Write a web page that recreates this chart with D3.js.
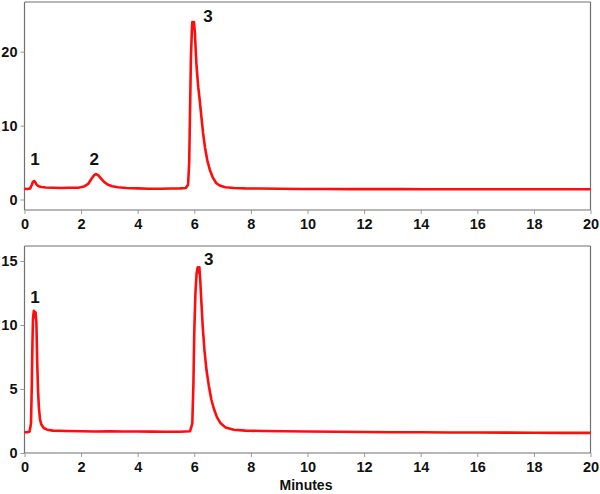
<!DOCTYPE html>
<html>
<head>
<meta charset="utf-8">
<script src="https://cdn.jsdelivr.net/npm/d3@7"></script>
<style>
  body { margin: 0; background: #fff; }
  svg { display: block; }
  text { font-family: "Liberation Sans", Arial, sans-serif; font-weight: bold; fill: #111; }
</style>
</head>
<body>
<svg id="chart" width="600" height="494"></svg>
<script>
// ---- data (minutes, signal) ----
const xTicks = [0, 2, 4, 6, 8, 10, 12, 14, 16, 18, 20];
const topYTicks = [0, 10, 20];
const bottomYTicks = [0, 5, 10, 15];

const topTime = [0, 0.1, 0.2, 0.26, 0.3, 0.34, 0.38, 0.43, 0.5, 0.6, 0.75, 1.0, 1.3, 1.6, 1.9, 2.1, 2.25, 2.35, 2.45, 2.52, 2.6, 2.7, 2.82, 2.95, 3.1, 3.3, 3.6, 4.0, 4.4, 4.8, 5.2, 5.5, 5.7, 5.78, 5.82, 5.85, 5.88, 5.91, 5.93, 5.96, 5.99, 6.02, 6.08, 6.14, 6.19, 6.25, 6.31, 6.38, 6.46, 6.55, 6.65, 6.78, 6.92, 7.1, 7.4, 7.8, 8.3, 9.0, 9.8, 10.6, 11.5, 12.4, 13.3, 14.2, 15.1, 16.0, 17.0, 18.0, 19.0, 20.0];
const topSignal = [1.45, 1.42, 1.5, 2.0, 2.4, 2.5, 2.35, 2.0, 1.8, 1.7, 1.62, 1.6, 1.55, 1.58, 1.6, 1.75, 2.1, 2.7, 3.25, 3.45, 3.3, 2.85, 2.35, 2.0, 1.8, 1.65, 1.55, 1.5, 1.45, 1.45, 1.48, 1.5, 1.55, 2.0, 5.0, 12.0, 19.0, 22.5, 24.0, 23.2, 24.0, 22.5, 18.0, 15.2, 13.5, 11.2, 9.0, 7.0, 5.3, 4.0, 3.0, 2.2, 1.85, 1.65, 1.55, 1.5, 1.48, 1.45, 1.42, 1.42, 1.4, 1.4, 1.4, 1.38, 1.38, 1.38, 1.38, 1.38, 1.38, 1.38];

const bottomTime = [0, 0.1, 0.18, 0.23, 0.26, 0.28, 0.3, 0.33, 0.36, 0.39, 0.42, 0.45, 0.48, 0.51, 0.55, 0.6, 0.68, 0.8, 1.0, 1.5, 2.0, 2.5, 3.0, 3.5, 4.0, 4.5, 5.0, 5.5, 5.85, 5.93, 5.97, 6.0, 6.04, 6.08, 6.12, 6.15, 6.18, 6.21, 6.25, 6.3, 6.36, 6.43, 6.51, 6.6, 6.7, 6.8, 6.92, 7.1, 7.4, 7.8, 8.4, 9.2, 10.0, 11.0, 12.0, 13.0, 14.0, 15.0, 16.0, 17.0, 18.0, 19.0, 20.0];
const bottomSignal = [1.62, 1.62, 1.68, 2.3, 5.5, 8.5, 10.5, 11.1, 10.6, 11.0, 10.2, 7.0, 4.8, 3.5, 2.6, 2.2, 1.95, 1.82, 1.75, 1.72, 1.7, 1.68, 1.7, 1.68, 1.68, 1.67, 1.66, 1.66, 1.7, 2.3, 5.5, 9.5, 12.5, 14.0, 14.5, 14.1, 14.5, 13.5, 11.8, 9.8, 8.0, 6.5, 5.3, 4.2, 3.4, 2.8, 2.35, 2.0, 1.82, 1.75, 1.72, 1.7, 1.68, 1.66, 1.64, 1.62, 1.62, 1.6, 1.6, 1.59, 1.58, 1.57, 1.57];

const topPeakNames = ["1", "2", "3"];
const topPeakTimes = [0.37, 2.46, 6.48];
const topPeakLabelValues = [4.67, 4.67, 23.95];
const bottomPeakNames = ["1", "3"];
const bottomPeakTimes = [0.37, 6.51];
const bottomPeakLabelValues = [11.7, 14.7];

const xLabel = "Minutes";

// ---- drawing ----
const svg = d3.select("#chart");
const frameColor = "#707070";
const lineColor = "#ff0d0d";

const x = d3.scaleLinear().domain([0, 20]).range([24.5, 590.5]);

function panel(opts) {
  const { top, bottom, yDomain, yTicks, yMinorStep, times, values, names, pTimes, pVals } = opts;
  const y = d3.scaleLinear().domain(yDomain).range([bottom, top]);
  const g = svg.append("g");

  // frame (top and right)
  g.append("line").attr("x1", x.range()[0]).attr("x2", x.range()[1])
    .attr("y1", top).attr("y2", top).attr("stroke", frameColor).attr("stroke-width", 1.2);
  g.append("line").attr("x1", x.range()[1]).attr("x2", x.range()[1])
    .attr("y1", top).attr("y2", bottom).attr("stroke", frameColor).attr("stroke-width", 1.2);

  // x axis
  const xMinor = d3.range(0, 20.001, 1 / 3);
  const xAx = g.append("g").attr("transform", `translate(0,${bottom})`);
  xAx.call(d3.axisBottom(x).tickValues(xMinor).tickSize(3).tickFormat(""));
  xAx.call(d3.axisBottom(x).tickValues(xTicks).tickSize(4).tickPadding(5).tickFormat(d3.format("d")));
  xAx.selectAll(".domain").attr("stroke", frameColor).attr("stroke-width", 1.2).attr("d", `M${x.range()[0]},0H${x.range()[1]}`);
  xAx.selectAll(".tick line").attr("stroke", "#999");
  xAx.selectAll("text").attr("font-size", 14.5).attr("font-family", "Liberation Sans, Arial, sans-serif").attr("font-weight", "bold").attr("fill", "#111");

  // y axis
  const yMinor = d3.range(Math.ceil(yDomain[0] / yMinorStep) * yMinorStep, yDomain[1] + 0.001, yMinorStep).filter(v => v >= yDomain[0]);
  const yAx = g.append("g").attr("transform", `translate(${x.range()[0]},0)`);
  yAx.call(d3.axisLeft(y).tickValues(yMinor).tickSize(3).tickFormat(""));
  yAx.call(d3.axisLeft(y).tickValues(yTicks).tickSize(4).tickPadding(3).tickFormat(d3.format("d")));
  yAx.selectAll(".domain").attr("stroke", frameColor).attr("stroke-width", 1.2).attr("d", `M0,${top}V${bottom}`);
  yAx.selectAll(".tick line").attr("stroke", "#999");
  yAx.selectAll("text").attr("font-size", 14.5).attr("font-family", "Liberation Sans, Arial, sans-serif").attr("font-weight", "bold").attr("fill", "#111");

  // trace
  const pts = times.map((t, i) => [t, values[i]]);
  g.append("path").datum(pts)
    .attr("fill", "none").attr("stroke", lineColor).attr("stroke-width", 2.6)
    .attr("stroke-linejoin", "round")
    .attr("d", d3.line().x(d => x(d[0])).y(d => y(d[1])));

  // peak labels
  g.selectAll("text.peak").data(names).enter().append("text")
    .attr("class", "peak")
    .attr("x", (d, i) => x(pTimes[i]))
    .attr("y", (d, i) => y(pVals[i]))
    .attr("text-anchor", "middle")
    .attr("font-size", 17)
    .text(d => d);
}

panel({
  top: 2, bottom: 210, yDomain: [-1.42, 26.72], yTicks: topYTicks, yMinorStep: 2 / 3,
  times: topTime, values: topSignal, names: topPeakNames, pTimes: topPeakTimes, pVals: topPeakLabelValues
});
panel({
  top: 246, bottom: 453, yDomain: [0, 16.17], yTicks: bottomYTicks, yMinorStep: 1,
  times: bottomTime, values: bottomSignal, names: bottomPeakNames, pTimes: bottomPeakTimes, pVals: bottomPeakLabelValues
});

svg.append("text").attr("x", 306).attr("y", 490).attr("text-anchor", "middle")
  .attr("font-size", 14).text(xLabel);
</script>
</body>
</html>
